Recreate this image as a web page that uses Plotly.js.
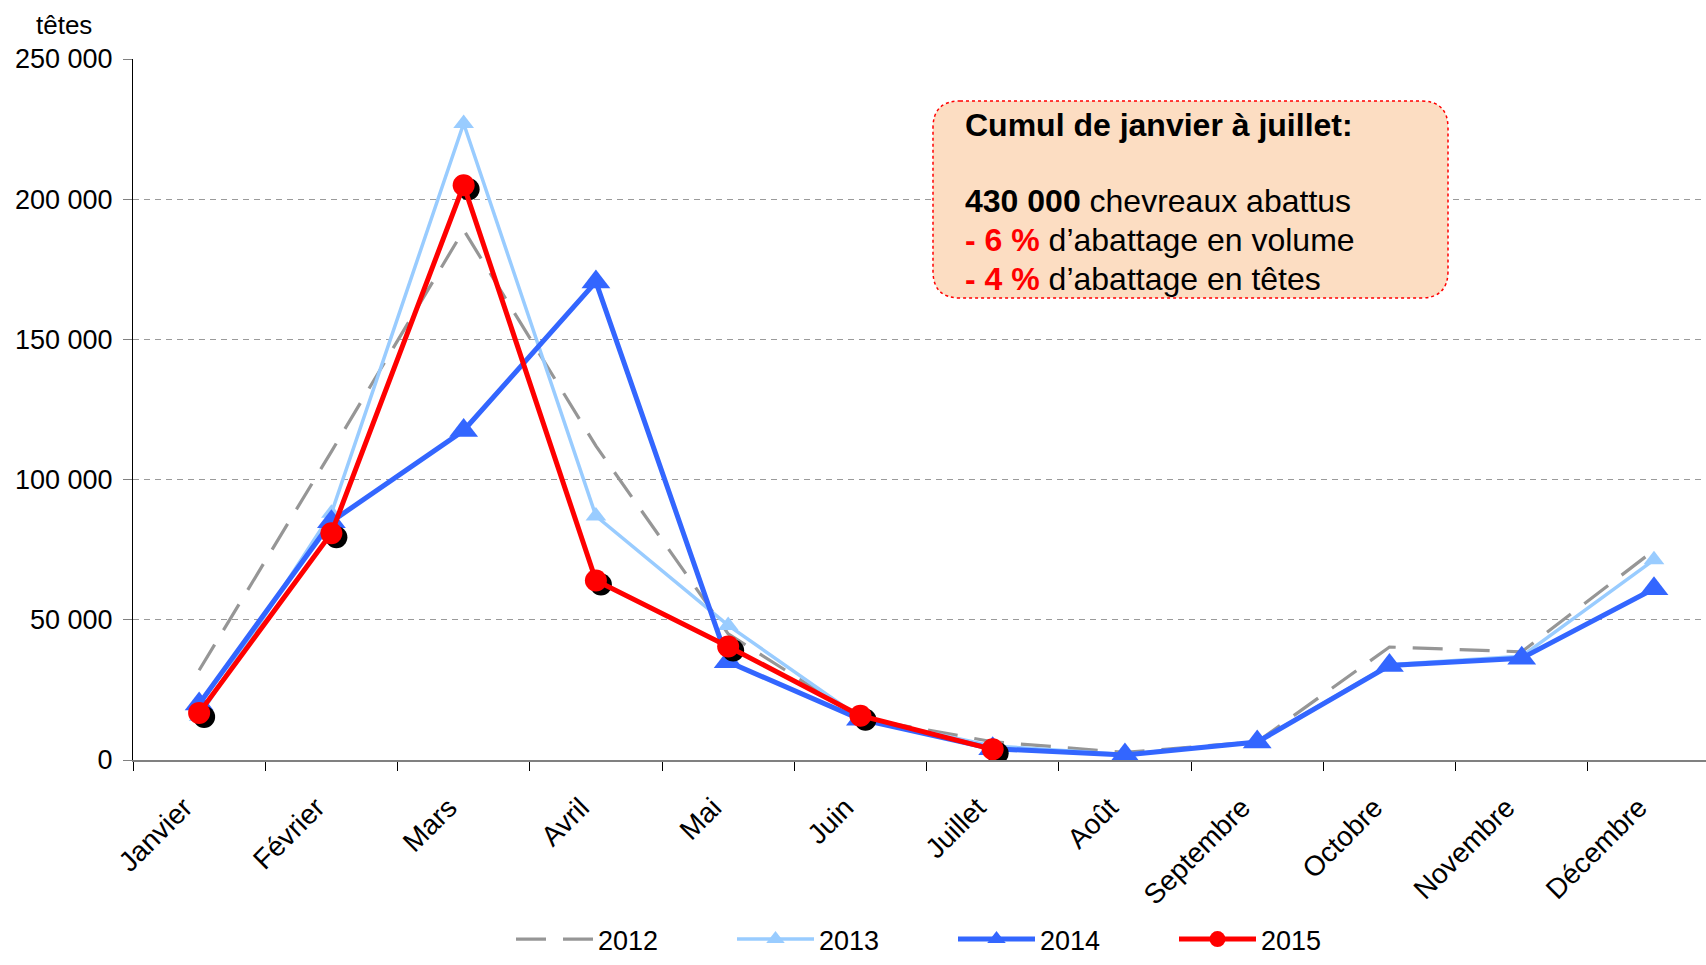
<!DOCTYPE html>
<html>
<head>
<meta charset="utf-8">
<script src="https://cdn.plot.ly/plotly-3.0.1.min.js"></script>
<style>
html,body{margin:0;padding:0;background:#fff;}
#chart{width:1706px;height:965px;}
</style>
</head>
<body>
<div id="chart"></div>
<script>
// ---- data ----
const months = ['Janvier','Février','Mars','Avril','Mai','Juin','Juillet','Août','Septembre','Octobre','Novembre','Décembre'];
const v2012 = [32000, 110000, 189000, 112000, 45000, 15000, 6500, 2700, 6500, 40300, 38600, 74800];
const v2013 = [15500, 88000, 227000, 87000, 48000, 15000, 5000, 2000, 6500, 34000, 37000, 71400];
const v2014 = [20000, 85000, 117500, 170500, 35000, 14500, 4000, 1800, 6400, 33700, 36300, 61100];
const v2015 = [16800, 80900, 205000, 64000, 40500, 15800, 3800];
const seriesNames = ['2012', '2013', '2014', '2015'];
const yTickVals = [0, 50000, 100000, 150000, 200000, 250000];
const yTickText = ['0', '50 000', '100 000', '150 000', '200 000', '250 000'];
const yUnit = 'têtes';
const boxTitle = 'Cumul de janvier à juillet:';
const boxTotal = '430 000';
const boxVol = '- 6 %';
const boxHeads = '- 4 %';

// ---- layout geometry ----
const W = 1706, H = 965, ML = 133, MR = 0, MT = 59, MB = 205;
const PW = W - ML - MR, PH = H - MT - MB;
const catPx = 132.26;
const xRange = [-0.5, -0.5 + PW / catPx];
const yRange = [0, 250000];
const px2x = px => (px - ML) / PW;
const py2y = py => (H - MB - py) / PH;
const shDx = 5 / catPx;
const shDy = 4 / PH * (yRange[1] - yRange[0]);
const FONT = 'Liberation Sans, Arial, sans-serif';

const traces = [
  {name: seriesNames[0], x: months, y: v2012, type: 'scatter', mode: 'lines',
   line: {color: '#969696', width: 3.2, dash: '30px,17px'}},
  {name: seriesNames[1], x: months, y: v2013, type: 'scatter', mode: 'lines+markers',
   line: {color: '#99CCFF', width: 3.5},
   marker: {symbol: 'triangle-up', size: 18, color: '#99CCFF'}},
  {name: seriesNames[2], x: months, y: v2014, type: 'scatter', mode: 'lines+markers',
   line: {color: '#3366FF', width: 5},
   marker: {symbol: 'triangle-up', size: 25, color: '#3366FF'}},
  {name: seriesNames[3] + ' ombre', x: months.slice(0, v2015.length), y: v2015, type: 'scatter', mode: 'markers',
   marker: {symbol: 'circle', size: 22, color: '#000000'},
   xaxis: 'x2', yaxis: 'y2', showlegend: false, hoverinfo: 'skip'},
  {name: seriesNames[3], x: months.slice(0, v2015.length), y: v2015, type: 'scatter', mode: 'lines+markers',
   line: {color: '#FF0000', width: 5},
   marker: {symbol: 'circle', size: 22, color: '#FF0000'},
   xaxis: 'x3', yaxis: 'y3'}
];

// rounded box (paper coords)
const bx0 = px2x(933), bx1 = px2x(1448), byT = py2y(101), byB = py2y(298);
const rx = 27 / PW, ry = 27 / PH;
const boxPath = `M${bx0+rx},${byT} L${bx1-rx},${byT} Q${bx1},${byT} ${bx1},${byT-ry} ` +
  `L${bx1},${byB+ry} Q${bx1},${byB} ${bx1-rx},${byB} L${bx0+rx},${byB} ` +
  `Q${bx0},${byB} ${bx0},${byB+ry} L${bx0},${byT-ry} Q${bx0},${byT} ${bx0+rx},${byT} Z`;

const boxLines = [
  {text: `<b>${boxTitle}</b>`, py: 125},
  {text: `<b>${boxTotal}</b> chevreaux abattus`, py: 201},
  {text: `<span style="color:#FF0000"><b>${boxVol}</b></span> d’abattage en volume`, py: 239.5},
  {text: `<span style="color:#FF0000"><b>${boxHeads}</b></span> d’abattage en têtes`, py: 278.5}
];

const hiddenX = {type: 'category', categoryarray: months, categoryorder: 'array', visible: false, overlaying: 'x'};
const hiddenY = {visible: false, overlaying: 'y'};

const annotations = [
  {xref: 'paper', yref: 'paper', x: px2x(64), y: py2y(25), text: yUnit, showarrow: false,
   xanchor: 'center', yanchor: 'middle', font: {family: FONT, size: 26, color: '#000'}}
].concat(boxLines.map(l => ({
  xref: 'paper', yref: 'paper', x: px2x(963), y: py2y(l.py), text: l.text, showarrow: false,
  xanchor: 'left', yanchor: 'middle', align: 'left', font: {family: FONT, size: 32, color: '#000'}
})));

const layout = {
  width: W, height: H,
  margin: {l: ML, r: MR, t: MT, b: MB, pad: 0, autoexpand: false},
  paper_bgcolor: '#ffffff', plot_bgcolor: '#ffffff',
  font: {family: FONT, size: 26, color: '#000'},
  showlegend: true,
  xaxis: {
    type: 'category', categoryarray: months, categoryorder: 'array',
    range: xRange, tickson: 'boundaries', ticks: 'outside', ticklen: 9, tickwidth: 1, tickcolor: '#000',
    showline: true, linecolor: '#808080', linewidth: 2, showgrid: false, zeroline: false,
    tickangle: -45, ticklabelstandoff: 18, ticklabelshift: -15,
    tickfont: {family: FONT, size: 28, color: '#000'}
  },
  yaxis: {
    range: yRange, tickvals: yTickVals, ticktext: yTickText,
    ticks: 'outside', ticklen: 9, tickwidth: 1, tickcolor: '#808080',
    showline: true, linecolor: '#000', linewidth: 1, ticklabelstandoff: 5,
    showgrid: true, gridcolor: '#9a9a9a', gridwidth: 1, griddash: '6px,5px', zeroline: false,
    tickfont: {family: FONT, size: 27, color: '#000'}
  },
  xaxis2: Object.assign({range: [xRange[0] - shDx, xRange[1] - shDx]}, hiddenX),
  yaxis2: Object.assign({range: [yRange[0] + shDy, yRange[1] + shDy]}, hiddenY),
  xaxis3: Object.assign({range: xRange.slice()}, hiddenX),
  yaxis3: Object.assign({range: yRange.slice()}, hiddenY),
  legend: {
    orientation: 'h', x: px2x(511), xanchor: 'left', y: py2y(964), yanchor: 'bottom',
    font: {family: FONT, size: 27, color: '#000'}, itemwidth: 77,
    bgcolor: 'rgba(0,0,0,0)', entrywidth: 129, entrywidthmode: 'pixels'
  },
  shapes: [{
    type: 'path', xref: 'paper', yref: 'paper', path: boxPath, layer: 'above',
    fillcolor: '#FCDDC2', line: {color: '#FF0000', width: 1.5, dash: 'dot'}
  }],
  annotations: annotations
};

Plotly.newPlot('chart', traces, layout, {displayModeBar: false, staticPlot: true});
</script>
</body>
</html>
